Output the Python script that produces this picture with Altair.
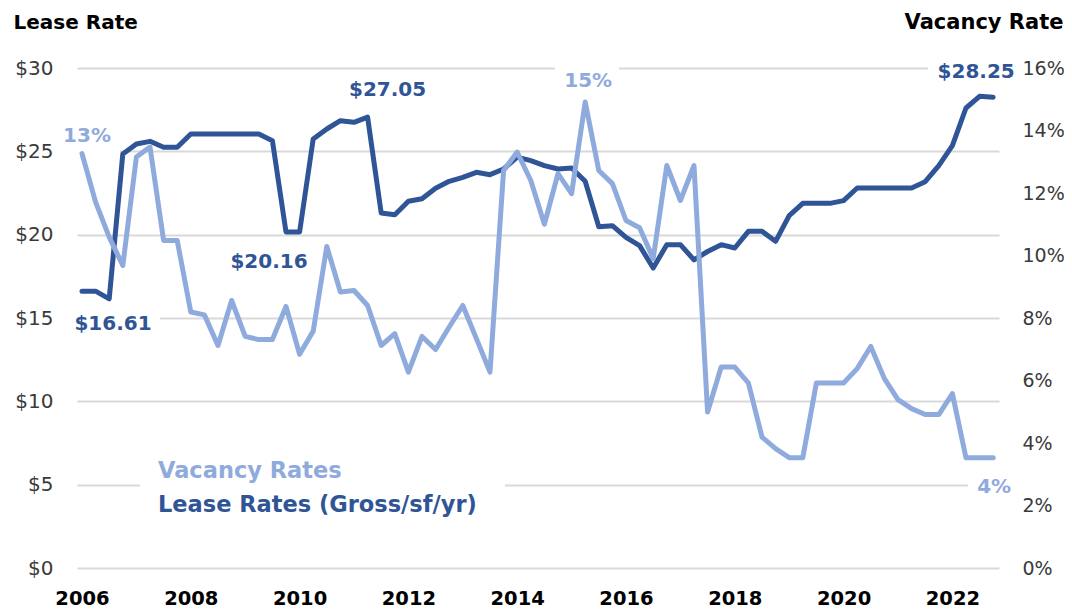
import altair as alt
import pandas as pd

# ---------------- data (quarterly, 2006 Q1 .. 2022 Q4) ----------------
years = list(range(2006, 2023))
quarters = [1, 2, 3, 4]

lease = [
    16.61, 16.61, 16.15, 24.84,   # 2006
    25.44, 25.60, 25.24, 25.24,   # 2007
    26.04, 26.04, 26.04, 26.04,   # 2008
    26.04, 26.04, 25.64, 20.16,   # 2009
    20.16, 25.74, 26.34, 26.84,   # 2010
    26.74, 27.05, 21.30, 21.19,   # 2011
    22.00, 22.15, 22.78, 23.20,   # 2012
    23.44, 23.74, 23.60, 23.94,   # 2013
    24.65, 24.44, 24.14, 23.94,   # 2014
    24.00, 23.20, 20.48, 20.54,   # 2015
    19.84, 19.34, 18.00, 19.40,   # 2016
    19.40, 18.49, 18.99, 19.40,   # 2017
    19.20, 20.20, 20.20, 19.60,   # 2018
    21.14, 21.88, 21.88, 21.88,   # 2019
    22.04, 22.80, 22.80, 22.80,   # 2020
    22.80, 22.80, 23.18, 24.14,   # 2021
    25.34, 27.60, 28.30, 28.25,   # 2022
]

vacancy = [
    13.26, 11.71, 10.59, 9.68,    # 2006
    13.15, 13.47, 10.48, 10.48,   # 2007
    8.19, 8.10, 7.12, 8.56,       # 2008
    7.41, 7.31, 7.31, 8.37,       # 2009
    6.84, 7.58, 10.29, 8.83,      # 2010
    8.88, 8.40, 7.12, 7.50,       # 2011
    6.27, 7.41, 6.99, 7.71,       # 2012
    8.40, 7.34, 6.27, 12.72,      # 2013
    13.31, 12.40, 11.00, 12.62,   # 2014
    11.98, 14.91, 12.72, 12.30,   # 2015
    11.12, 10.89, 9.90, 12.88,    # 2016
    11.76, 12.88, 4.99, 6.43,     # 2017
    6.43, 5.92, 4.19, 3.82,       # 2018
    3.53, 3.53, 5.92, 5.92,       # 2019
    5.92, 6.38, 7.09, 6.06,       # 2020
    5.39, 5.10, 4.91, 4.91,       # 2021
    5.58, 3.53, 3.53, 3.53,       # 2022
]

lease_ticks = [0, 5, 10, 15, 20, 25, 30]
vacancy_ticks = [0, 2, 4, 6, 8, 10, 12, 14, 16]
year_ticks = [2006, 2008, 2010, 2012, 2014, 2016, 2018, 2020, 2022]

lease_label_idx = [0, 15, 21, 67]
lease_label_text = ["$16.61", "$20.16", "$27.05", "$28.25"]
vacancy_label_idx = [0, 37, 67]
vacancy_label_text = ["13%", "15%", "4%"]

legend_text = ["Vacancy Rates", "Lease Rates (Gross/sf/yr)"]

# ---------------- styles ----------------
DARK = "#2F5597"
LIGHT = "#8FAADC"
FONT = "DejaVu Sans"
GRID = "#D9D9D9"

t_vals = [y + (q - 1) / 4 for y in years for q in quarters]
df = pd.DataFrame({"t": t_vals, "lease": lease, "vacancy": vacancy})

x_enc = alt.X(
    "t:Q",
    scale=alt.Scale(domain=[2005.908, 2022.857], nice=False, zero=False),
    axis=alt.Axis(
        values=year_ticks, format="d", grid=False, domain=False, ticks=False,
        labelFont=FONT, labelFontSize=19.5, labelFontWeight="bold", labelColor="#000000",
        labelPadding=21, title=None, labelFlush=False,
    ),
)

y_lease = alt.Y(
    "lease:Q",
    scale=alt.Scale(domain=[0, 30], nice=False, zero=True),
    axis=alt.Axis(
        values=lease_ticks, labelExpr="'$' + datum.value", grid=True,
        gridColor=GRID, gridWidth=2, domain=False, ticks=False,
        labelFont=FONT, labelFontSize=20, labelColor="#3A3A3A", labelPadding=24,
        title="Lease Rate", titleAngle=0, titleAlign="left", titleBaseline="alphabetic",
        titleX=-64, titleY=-40, titleFont=FONT, titleFontSize=20, titleFontWeight="bold",
        titleColor="#000000",
    ),
)

y_vac = alt.Y(
    "vacancy:Q",
    scale=alt.Scale(domain=[0, 16], nice=False, zero=True),
    axis=alt.Axis(
        orient="right", values=vacancy_ticks, labelExpr="datum.value + '%'", grid=False,
        domain=False, ticks=False,
        labelFont=FONT, labelFontSize=19, labelColor="#3A3A3A", labelPadding=23,
        title="Vacancy Rate", titleAngle=0, titleAlign="right", titleBaseline="alphabetic",
        titleX=64, titleY=-40, titleFont=FONT, titleFontSize=21, titleFontWeight="bold",
        titleColor="#000000",
    ),
)

one = pd.DataFrame({"k": [0]})

# white boxes behind labels (plot-pixel coordinates)
boxes = [
    (63, 428, 387, 452),
    (478, 542, -7, 27),
    (851, 925, -10, 18),
    (-22, 43, 52, 90),
    (-7, 83, 237, 273),
    (891, 925, 402, 433),
]
box_layers = [
    alt.Chart(one).mark_rect(color="white").encode(
        x=alt.value(b[0]), x2=alt.value(b[1]), y=alt.value(b[2]), y2=alt.value(b[3])
    )
    for b in boxes
]

base = alt.Chart(df)

lease_line = base.mark_line(
    color=DARK, strokeWidth=5, strokeJoin="round", strokeCap="round"
).encode(x=x_enc, y=y_lease)

vac_line = base.mark_line(
    color=LIGHT, strokeWidth=5, strokeJoin="round", strokeCap="round"
).encode(x=x_enc, y=y_vac)

lease_offsets = [(31, 33), (-17, 30), (20, -27), (-17, -25)]
lease_texts = []
for i, txt, (dx, dy) in zip(lease_label_idx, lease_label_text, lease_offsets):
    d = pd.DataFrame({"t": [t_vals[i]], "lease": [lease[i]], "label": [txt]})
    lease_texts.append(
        alt.Chart(d).mark_text(
            font=FONT, fontSize=20, fontWeight="bold", color=DARK, dx=dx, dy=dy
        ).encode(x=alt.X("t:Q"), y=alt.Y("lease:Q"), text="label:N")
    )

vac_offsets = [(5, -18), (3, -21), (1, 29)]
vac_texts = []
for i, txt, (dx, dy) in zip(vacancy_label_idx, vacancy_label_text, vac_offsets):
    d = pd.DataFrame({"t": [t_vals[i]], "vacancy": [vacancy[i]], "label": [txt]})
    vac_texts.append(
        alt.Chart(d).mark_text(
            font=FONT, fontSize=20, fontWeight="bold", color=LIGHT, dx=dx, dy=dy
        ).encode(x=alt.X("t:Q"), y=alt.Y("vacancy:Q"), text="label:N")
    )

legend_vac = alt.Chart(pd.DataFrame({"label": [legend_text[0]]})).mark_text(
    font=FONT, fontSize=22.5, fontWeight="bold", color=LIGHT, align="left", baseline="middle"
).encode(x=alt.value(81), y=alt.value(403), text="label:N")
legend_lease = alt.Chart(pd.DataFrame({"label": [legend_text[1]]})).mark_text(
    font=FONT, fontSize=22.5, fontWeight="bold", color=DARK, align="left", baseline="middle"
).encode(x=alt.value(81), y=alt.value(437), text="label:N")

lease_layer = alt.layer(*box_layers, lease_line, *lease_texts, legend_vac, legend_lease)
vac_layer = alt.layer(vac_line, *vac_texts)

chart = (
    alt.layer(lease_layer, vac_layer)
    .resolve_scale(y="independent")
    .properties(
        width=922, height=500,
        autosize=alt.AutoSizeParams(type="none"),
        padding={"left": 69, "top": 60, "right": 65, "bottom": 40},
    )
    .configure_view(stroke=None)
)

chart.save("out.html", embed_options={"renderer": "svg", "actions": False})
